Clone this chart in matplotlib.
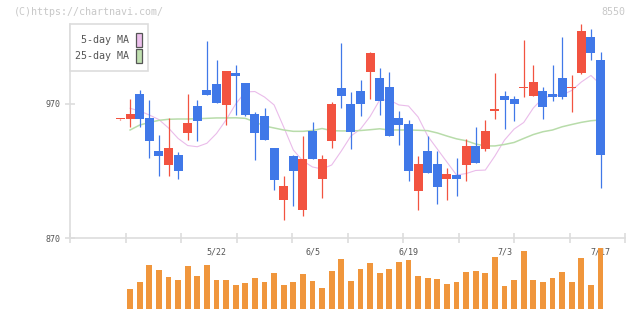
import numpy as np
import matplotlib
matplotlib.use("Agg")
import matplotlib.pyplot as plt
from matplotlib.patches import Rectangle
from matplotlib.transforms import blended_transform_factory

# daily candles (price), oldest first
opens = [958.6, 958.6, 977.5, 959.6, 935.2, 924.5, 931.9, 948.6, 968.5, 980.4,
         984.9, 969.5, 993.1, 985.7, 962.5, 961.0, 937.2, 898.7, 931.2, 891.1,
         949.9, 914.3, 942.6, 981.9, 970.0, 979.7, 994.1, 989.4, 982.7, 959.6,
         955.1, 905.3, 934.9, 925.2, 914.3, 917.0, 924.7, 938.7, 936.6, 965.0,
         976.0, 973.7, 981.9, 976.2, 979.7, 977.5, 989.4, 981.9, 993.4, 1020.0,
         1002.8]
highs = [959.0, 973.7, 980.4, 973.0, 946.9, 959.3, 934.2, 977.8, 973.0, 1017.0,
         1002.8, 994.6, 999.1, 985.7, 964.3, 967.0, 937.2, 916.3, 931.9, 946.1,
         956.6, 931.9, 971.5, 1015.5, 979.0, 987.9, 1008.8, 996.9, 993.9, 964.8,
         958.1, 931.2, 946.1, 934.9, 922.2, 929.7, 943.9, 952.8, 958.1, 993.1,
         979.7, 976.0, 1017.8, 999.1, 982.7, 999.1, 1020.0, 991.6, 1029.7, 1026.0,
         1008.8]
lows = [958.2, 953.1, 953.1, 929.5, 916.5, 916.5, 914.3, 943.1, 942.6, 976.9,
        970.9, 954.6, 961.8, 961.0, 928.2, 943.4, 906.1, 883.4, 894.1, 886.4,
        929.2, 900.1, 937.4, 967.2, 936.7, 961.3, 974.0, 962.0, 946.3, 939.6,
        912.8, 891.2, 918.8, 895.7, 898.7, 901.6, 912.8, 926.2, 935.2, 959.0,
        951.6, 957.5, 975.5, 976.2, 959.0, 972.5, 974.0, 964.3, 992.7, 1003.1,
        907.6]
closes = [958.6, 962.5, 958.6, 942.6, 931.2, 937.2, 920.2, 955.8, 957.5, 976.9,
          970.9, 994.6, 991.1, 962.0, 948.6, 943.4, 913.6, 908.8, 920.2, 928.9,
          929.2, 929.0, 970.0, 976.2, 949.4, 970.2, 1008.1, 972.5, 946.3, 954.6,
          920.2, 925.2, 918.8, 908.3, 917.8, 914.3, 938.7, 926.2, 949.9, 965.0,
          973.2, 970.0, 981.9, 986.4, 968.0, 975.5, 975.5, 981.9, 1024.5, 1008.3,
          932.2]

ma5 = [np.nan, 966.8, 964.8, 961.8, 958.4, 952.1, 944.3, 939.0, 938.1, 940.7,
       948.0, 958.1, 970.0, 979.0, 979.3, 975.2, 969.3, 952.8, 935.7, 927.5,
       923.0, 921.5, 924.5, 934.9, 946.1, 951.3, 960.7, 973.0, 973.0, 969.3,
       968.5, 960.3, 946.1, 936.4, 926.7, 917.0, 918.1, 920.4, 920.7, 931.2,
       943.1, 951.3, 956.2, 967.0, 974.5, 976.3, 976.7, 980.1, 986.4, 991.3,
       984.6]
ma25 = [np.nan, 950.6, 954.3, 956.2, 957.8, 958.6, 958.8, 958.8, 959.0, 959.3,
        959.6, 959.6, 959.7, 959.3, 956.6, 953.6, 952.1, 950.6, 949.6, 949.6,
        950.2, 951.7, 950.1, 949.9, 949.9, 950.2, 950.8, 951.5, 950.6, 950.6,
        950.6, 950.4, 950.1, 948.4, 946.1, 944.0, 942.6, 940.1, 938.7, 938.7,
        939.8, 941.3, 944.3, 947.2, 949.3, 950.6, 953.0, 954.7, 956.3, 957.5,
        958.1]

# volume (relative units), first day not shown
volumes = [np.nan, 20, 27, 44, 39, 32, 29, 43, 33, 44,
           29, 29, 24, 26, 31, 27, 36, 24, 27, 35,
           28, 21, 38, 50, 28, 40, 46, 36, 40, 47,
           49, 33, 31, 30, 25, 27, 37, 38, 36, 52,
           23, 29, 58, 29, 27, 31, 37, 27, 51, 24,
           61]

date_labels = ["5/22", "6/5", "6/19", "7/3", "7/17"]

UP = "#f25340"
DOWN = "#4078e8"
VOL = "#f0963c"
AXC = "#dddddd"
TXT = "#555555"
MONO = "DejaVu Sans Mono"

W, H = 640, 311


def fx(px):
    return px / W


def fy(py):
    return 1 - py / H


def main():
    fig = plt.figure(figsize=(W / 100, H / 100), dpi=100)
    ax = fig.add_axes([fx(70), fy(238), fx(625) - fx(70), fy(24) - fy(238)])
    axv = fig.add_axes([fx(70), fy(309), fx(625) - fx(70), fy(245) - fy(309)])

    n = len(closes)
    x = np.arange(n)
    o = np.array(opens)
    c = np.array(closes)
    up = c >= o
    colors = np.where(up, UP, DOWN)

    ax.vlines(x, lows, highs, colors=colors, linewidth=0.9, zorder=2)
    bottom = np.minimum(o, c)
    height = np.maximum(np.abs(c - o), 0.9)
    ax.bar(x, height, bottom=bottom, width=0.94, color=colors, zorder=3)

    ax.plot(x, ma5, color="#eabcea", linewidth=0.8, zorder=1)
    ax.plot(x, ma25, color="#b8dcaa", linewidth=1.1, zorder=1)

    x0, x1 = -5.26, 52.55
    for a in (ax, axv):
        a.set_xlim(x0, x1)
        for s in ("top", "right"):
            a.spines[s].set_visible(False)
    ax.set_ylim(870, 1029.7)
    ax.spines["left"].set_color(AXC)
    ax.spines["bottom"].set_color(AXC)
    ax.spines["left"].set_linewidth(1.2)
    ax.spines["bottom"].set_linewidth(1.2)
    ax.set_xticks(np.linspace(x0, x1, 11))
    ax.set_xticklabels([])
    ax.set_yticks([870, 970])
    ax.set_yticklabels(["870", "970"], family=MONO, fontsize=6, color=TXT)
    ax.tick_params(axis="both", direction="inout", length=7, width=1.2, color=AXC, pad=3)

    trans = blended_transform_factory(ax.transData, ax.transAxes)
    for k, lab in enumerate(date_labels):
        i = n - 1 - 10 * (len(date_labels) - 1 - k)
        ax.text(i, -0.065, lab, transform=trans, ha="center", va="center",
                family=MONO, fontsize=6, color=TXT)

    axv.bar(x, volumes, width=0.62, color=VOL)
    axv.set_ylim(0, 64)
    axv.axis("off")

    # watermark texts
    fig.text(fx(14), fy(12), "(C)https://chartnavi.com/", family=MONO, fontsize=7.2,
             color="#c8c8c8", ha="left", va="center")
    fig.text(fx(625), fy(12), "8550", family=MONO, fontsize=7.2,
             color="#c8c8c8", ha="right", va="center")

    # legend box
    fig.patches.append(Rectangle((fx(70), fy(71)), fx(148) - fx(70), fy(24) - fy(71),
                                 transform=fig.transFigure, facecolor="white",
                                 edgecolor=AXC, linewidth=1.2, zorder=5))
    for ytxt, label, col in ((40, "5-day MA", "#ecc0ec"), (56, "25-day MA", "#c0e0b0")):
        fig.text(fx(129), fy(ytxt), label, family=MONO, fontsize=7.2, color=TXT,
                 ha="right", va="center", zorder=6)
        fig.patches.append(Rectangle((fx(136), fy(ytxt + 7)), fx(142) - fx(136), fy(ytxt - 7) - fy(ytxt + 7),
                                     transform=fig.transFigure, facecolor=col,
                                     edgecolor=TXT, linewidth=0.9, zorder=6))

    fig.savefig("out.png", dpi=100)


if __name__ == "__main__":
    main()
